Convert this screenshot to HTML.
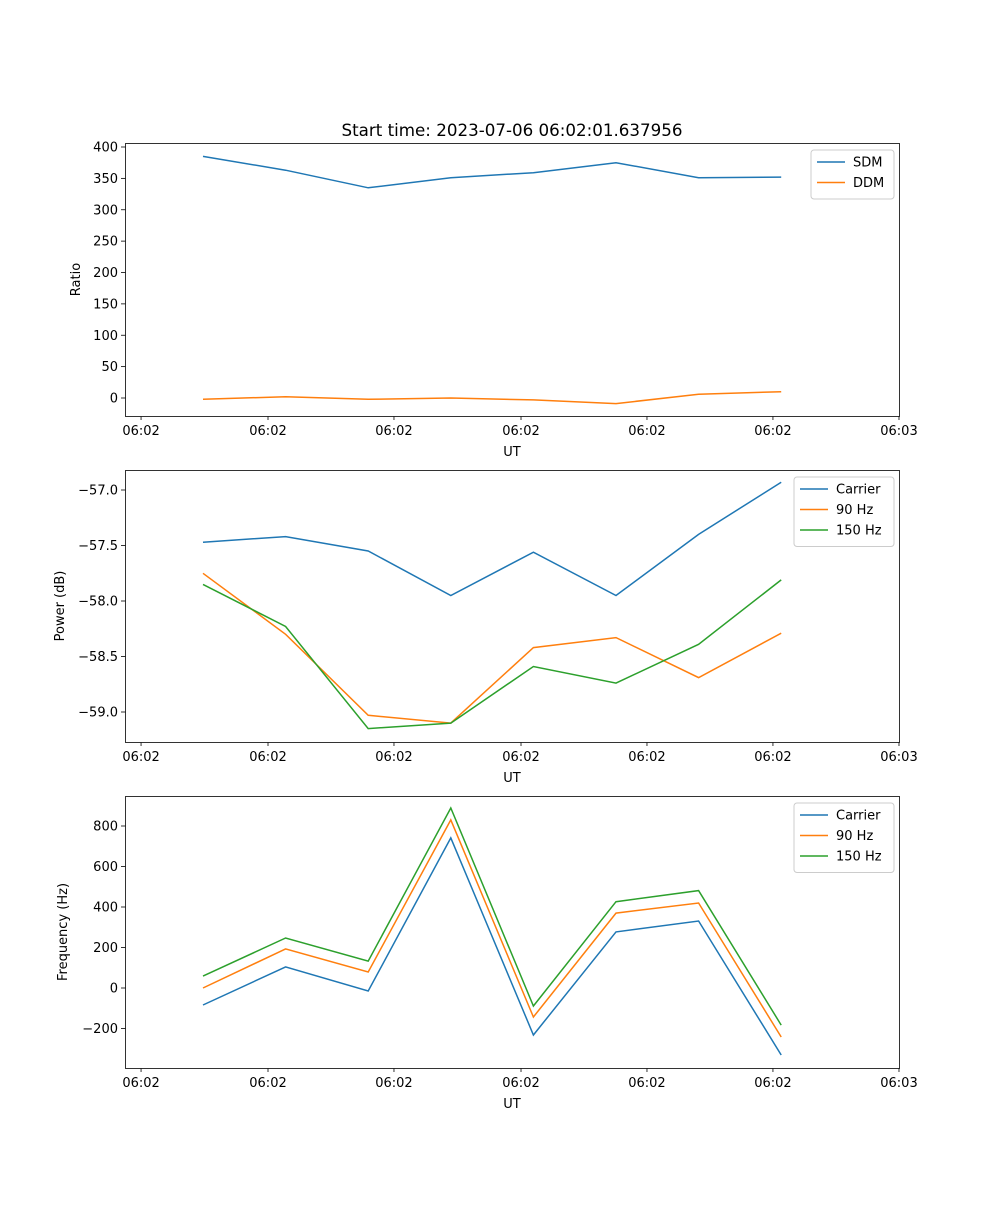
<!DOCTYPE html>
<html><head><meta charset="utf-8"><style>
body{margin:0;background:#fff;}
svg text{font-family:"DejaVu Sans","Liberation Sans",sans-serif;fill:#000;}
</style></head><body>
<svg id="fig" width="1000" height="1200" xmlns="http://www.w3.org/2000/svg"></svg>
<script>
const xCats = [0,1,2,3,4,5,6,7];
const xTickPos = [-0.75,0.787,2.312,3.85,5.375,6.9,8.426];
const xTickLabels = ["06:02","06:02","06:02","06:02","06:02","06:02","06:03"];
const sdm = [385,363,335,351,359,375,351,352];
const ddm = [-2,2,-2,0,-3,-9,6,10];
const pwrCarrier = [-57.47,-57.42,-57.55,-57.95,-57.56,-57.95,-57.40,-56.93];
const pwr90 = [-57.75,-58.30,-59.03,-59.10,-58.42,-58.33,-58.69,-58.29];
const pwr150 = [-57.85,-58.23,-59.15,-59.10,-58.59,-58.74,-58.39,-57.81];
const frqCarrier = [-84,104,-15,741,-232,277,331,-331];
const frq90 = [0,193,79,830,-143,370,420,-242];
const frq150 = [59,247,133,889,-89,426,481,-183];
const yTicks1 = [0,50,100,150,200,250,300,350,400];
const yTicks2 = [-59.0,-58.5,-58.0,-57.5,-57.0];
const yTicks3 = [-200,0,200,400,600,800];

const NS="http://www.w3.org/2000/svg";
const svg=document.getElementById('fig');
function el(tag,attrs,parent){const e=document.createElementNS(NS,tag);for(const k in attrs)e.setAttribute(k,attrs[k]);(parent||svg).appendChild(e);return e;}
const xs=i=>203+82.6*i;
const colors={blue:"#1f77b4",orange:"#ff7f0e",green:"#2ca02c"};

function panel(name,top,bottom,ymap,yTicks,fmt,ylabel,series,legendW){
  const g=el('g',{});
  
  
  series.forEach(s=>{
    const pts=s.data.map((v,i)=>xs(xCats[i]).toFixed(1)+','+ymap(v).toFixed(1)).join(' ');
    const pl=el('polyline',{points:pts,fill:'none',stroke:s.color,'stroke-width':1.5},g);
    
    
  });
  el('rect',{x:125.5,y:top+0.5,width:774,height:bottom-top,fill:'none',stroke:'#000','stroke-width':0.8},g);
  xTickPos.forEach((p,i)=>{
    const x=xs(p);
    el('line',{x1:x,x2:x,y1:bottom+0.5,y2:bottom+4,stroke:'#000','stroke-width':0.8},g);
    const t=el('text',{x:x,y:bottom+19,'font-size':13,'text-anchor':'middle'},g);
    t.textContent=xTickLabels[i];
    
    
  });
  const xl=el('text',{x:512,y:bottom+40,'font-size':13,'text-anchor':'middle'},g);
  xl.textContent='UT';
  
  
  yTicks.forEach(v=>{
    const y=ymap(v);
    el('line',{x1:121,x2:125.5,y1:y,y2:y,stroke:'#000','stroke-width':0.8},g);
    const t=el('text',{x:118,y:y+4.5,'font-size':13,'text-anchor':'end'},g);
    t.textContent=fmt(v);
    
    
  });
  const cy=(top+bottom)/2;
  const yl=el('text',{x:0,y:0,'font-size':13,'text-anchor':'middle',transform:`translate(${ylabel.x},${cy}) rotate(-90)`},g);
  yl.textContent=ylabel.text;
  
  
  const lx=900-6-legendW, ly=top+7, lh=8+series.length*20.5;
  const lg=el('g',{},g);
  
  
  el('rect',{x:lx,y:ly,width:legendW,height:lh,rx:3,fill:'#fff','fill-opacity':0.8,stroke:'#ccc'},lg);
  series.forEach((s,i)=>{
    const yy=ly+12+i*20.5;
    el('line',{x1:lx+6,x2:lx+34,y1:yy,y2:yy,stroke:s.color,'stroke-width':1.5},lg);
    const t=el('text',{x:lx+42,y:yy+4.5,'font-size':13},lg);
    t.textContent=s.label;
    
    
  });
}
const t=el('text',{x:512,y:136,'font-size':16.7,'text-anchor':'middle'});
t.textContent='Start time: 2023-07-06 06:02:01.637956';



panel('ratio-panel',143,416,v=>398-v*0.6275,yTicks1,v=>String(v),{x:80,text:'Ratio'},
  [{id:'sdm-line',data:sdm,color:colors.blue,label:'SDM'},{id:'ddm-line',data:ddm,color:colors.orange,label:'DDM'}],83);
panel('power-panel',470,742,v=>490+(-57.0-v)*111,yTicks2,v=>'\u2212'+Math.abs(v).toFixed(1),{x:64,text:'Power (dB)'},
  [{id:'power-carrier-line',data:pwrCarrier,color:colors.blue,label:'Carrier'},{id:'power-90hz-line',data:pwr90,color:colors.orange,label:'90 Hz'},{id:'power-150hz-line',data:pwr150,color:colors.green,label:'150 Hz'}],100);
panel('frequency-panel',796,1068,v=>988-v*0.2025,yTicks3,v=>v<0?'\u2212'+Math.abs(v):String(v),{x:67,text:'Frequency (Hz)'},
  [{id:'freq-carrier-line',data:frqCarrier,color:colors.blue,label:'Carrier'},{id:'freq-90hz-line',data:frq90,color:colors.orange,label:'90 Hz'},{id:'freq-150hz-line',data:frq150,color:colors.green,label:'150 Hz'}],100);
</script>
</body></html>
